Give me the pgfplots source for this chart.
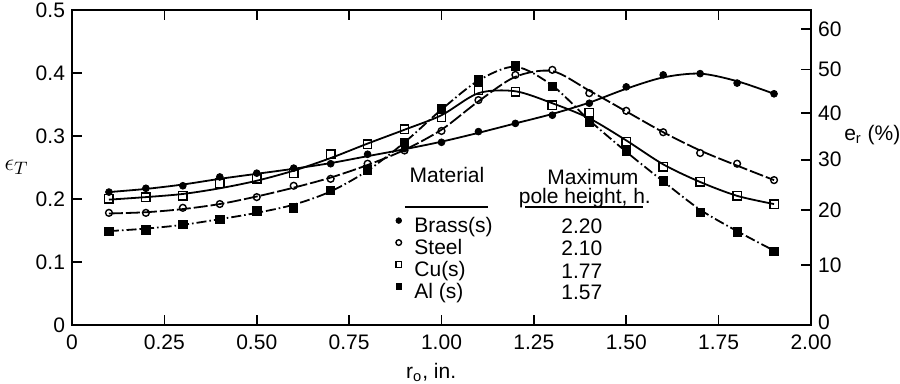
\documentclass[border=0pt]{standalone}
\usepackage{pgfplots}
\pgfplotsset{compat=1.18}
\usetikzlibrary{calc}
\usepackage{fontspec}
\setmainfont{Liberation Sans}
\begin{document}
\begin{tikzpicture}
\pgfplotsset{
  common/.style={
    scale only axis, width=369.5pt, height=157.5pt,
    xmin=0, xmax=2, ymin=0, ymax=0.5,
    tick align=inside, major tick length=5pt,
    tick style={black, line width=0.8pt},
    axis line style={line width=0.9pt},
    tick label style={font=\fontsize{10.5}{12}\selectfont},
  },
  brassline/.style={black, line width=0.9pt, smooth, tension=0.5},
  steelline/.style={black, line width=0.9pt, smooth, tension=0.5, dash pattern=on 7pt off 1.5pt},
  culine/.style={black, line width=0.9pt, smooth, tension=0.5},
  alline/.style={black, line width=0.9pt, smooth, tension=0.5, dash pattern=on 5pt off 1.5pt on 0.8pt off 1.5pt},
}
\begin{axis}[common,
  name=main, clip mode=individual,
  xtick={0,0.25,0.5,0.75,1,1.25,1.5,1.75,2},
  xticklabels={0,0.25,0.50,0.75,1.00,1.25,1.50,1.75,2.00},
  ytick={0,0.1,0.2,0.3,0.4,0.5},
  yticklabels={0,0.1,0.2,0.3,0.4,0.5},
  xtick pos=both, ytick pos=left,
  xticklabel style={yshift=-1.5pt},
  legend style={at={(rel axis cs:0.437,0.346)}, anchor=north west, draw=none, fill=none,
    inner sep=0pt, row sep=0pt,
    nodes={inner xsep=1pt, inner ysep=1pt, text height=7pt, text depth=2pt,
      font=\fontsize{10.5}{12}\selectfont}},
  legend cell align=left,
  legend image code/.code={
    \path[draw=none, fill=none] (0cm,0cm) -- (0.3cm,0cm);
    \draw[#1, mark size=1.4pt] plot coordinates {(0.06cm,0.12cm)};
  },
]
% fitted curves
\addplot[brassline, forget plot] coordinates {(0.1,0.211) (0.2,0.216) (0.3,0.223) (0.4,0.232) (0.5,0.240) (0.6,0.248) (0.7,0.257) (0.8,0.268) (0.9,0.279) (1.0,0.291) (1.1,0.305) (1.2,0.320) (1.3,0.335) (1.4,0.353) (1.5,0.375) (1.6,0.393) (1.7,0.399) (1.8,0.387) (1.9,0.367)};
\addplot[steelline, forget plot] coordinates {(0.1,0.177) (0.2,0.179) (0.3,0.184) (0.4,0.192) (0.5,0.204) (0.6,0.218) (0.7,0.234) (0.8,0.254) (0.9,0.278) (1.0,0.310) (1.1,0.355) (1.2,0.394) (1.3,0.403) (1.4,0.372) (1.5,0.339) (1.6,0.306) (1.7,0.277) (1.8,0.253) (1.9,0.230)};
\addplot[culine, forget plot] coordinates {(0.1,0.199) (0.2,0.203) (0.3,0.208) (0.4,0.217) (0.5,0.229) (0.6,0.245) (0.7,0.265) (0.8,0.288) (0.9,0.310) (1.0,0.333) (1.1,0.368) (1.2,0.371) (1.3,0.352) (1.4,0.328) (1.5,0.293) (1.6,0.255) (1.7,0.227) (1.8,0.205) (1.9,0.192)};
\addplot[alline, forget plot] coordinates {(0.1,0.149) (0.2,0.153) (0.3,0.159) (0.4,0.168) (0.5,0.178) (0.6,0.191) (0.7,0.212) (0.8,0.245) (0.9,0.290) (1.0,0.342) (1.1,0.388) (1.2,0.410) (1.3,0.380) (1.4,0.325) (1.5,0.275) (1.6,0.228) (1.7,0.183) (1.8,0.149) (1.9,0.118)};
% measured points
\addplot[black, only marks, mark=*, mark size=1.7pt, mark options={solid, fill=black}]
coordinates {(0.1,0.211) (0.2,0.217) (0.3,0.221) (0.4,0.235) (0.5,0.241) (0.6,0.249) (0.7,0.256) (0.8,0.271) (0.9,0.280) (1.0,0.290) (1.1,0.307) (1.2,0.320) (1.3,0.333) (1.4,0.352) (1.5,0.378) (1.6,0.397) (1.7,0.399) (1.8,0.384) (1.9,0.367)};
\addlegendentry{Brass(s)}
\addplot[black, only marks, mark=o, mark size=1.7pt, mark options={solid, fill=white, line width=0.7pt}]
coordinates {(0.1,0.178) (0.2,0.178) (0.3,0.186) (0.4,0.192) (0.5,0.203) (0.6,0.221) (0.7,0.232) (0.8,0.256) (0.9,0.277) (1.0,0.308) (1.1,0.357) (1.2,0.397) (1.3,0.405) (1.4,0.368) (1.5,0.340) (1.6,0.306) (1.7,0.273) (1.8,0.256) (1.9,0.230)};
\addlegendentry{Steel}
\addplot[black, only marks, mark=square, mark size=2.1pt, mark options={solid, fill=white, line width=0.7pt}]
coordinates {(0.1,0.200) (0.2,0.203) (0.3,0.205) (0.4,0.225) (0.5,0.232) (0.6,0.241) (0.7,0.271) (0.8,0.287) (0.9,0.311) (1.0,0.330) (1.1,0.373) (1.2,0.370) (1.3,0.349) (1.4,0.337) (1.5,0.291) (1.6,0.251) (1.7,0.227) (1.8,0.205) (1.9,0.192)};
\addlegendentry{Cu(s)}
\addplot[black, only marks, mark=square*, mark size=2.1pt, mark options={solid, fill=black}]
coordinates {(0.1,0.149) (0.2,0.151) (0.3,0.160) (0.4,0.168) (0.5,0.181) (0.6,0.186) (0.7,0.214) (0.8,0.246) (0.9,0.290) (1.0,0.343) (1.1,0.389) (1.2,0.411) (1.3,0.379) (1.4,0.322) (1.5,0.276) (1.6,0.229) (1.7,0.179) (1.8,0.148) (1.9,0.117)};
\addlegendentry{Al (s)}
% table headers and values
\node[font=\fontsize{10.5}{12}\selectfont] at (rel axis cs:0.5074,0.476) {Material};
\node[font=\fontsize{10.5}{12}\selectfont] at (rel axis cs:0.705,0.470) {Maximum};
\node[font=\fontsize{10.5}{12}\selectfont] at (rel axis cs:0.694,0.403) {pole height, h.};
\draw[line width=0.8pt] (rel axis cs:0.4506,0.3746) -- (rel axis cs:0.5629,0.3746);
\draw[line width=0.8pt] (rel axis cs:0.613,0.3746) -- (rel axis cs:0.7727,0.3746);
\node[font=\fontsize{10.5}{12}\selectfont] at (rel axis cs:0.690,0.314) {2.20};
\node[font=\fontsize{10.5}{12}\selectfont] at (rel axis cs:0.690,0.244) {2.10};
\node[font=\fontsize{10.5}{12}\selectfont] at (rel axis cs:0.690,0.171) {1.77};
\node[font=\fontsize{10.5}{12}\selectfont] at (rel axis cs:0.690,0.104) {1.57};
% axis labels
\node[font=\fontsize{13}{15}\selectfont] at (rel axis cs:-0.075,0.50) {$\epsilon_T$};
\node[font=\fontsize{10.5}{12}\selectfont] at (rel axis cs:0.486,-0.15) {r\textsubscript{o}, in.};
\node[font=\fontsize{10.5}{12}\selectfont] at (rel axis cs:1.083,0.603) {e\textsubscript{r} (\%)};
\end{axis}
\begin{axis}[common,
  axis x line=none, axis y line*=right,
  ytick={0,0.09531,0.18232,0.26236,0.33647,0.40547,0.47000},
  yticklabels={\raisebox{2.5pt}{0},10,20,30,40,50,60},
]
\end{axis}
\pgfresetboundingbox
\path[use as bounding box] ($(main.south west)+(-36pt,-29.5pt)$) rectangle ($(main.north east)+(44.5pt,5pt)$);
\end{tikzpicture}
\end{document}
